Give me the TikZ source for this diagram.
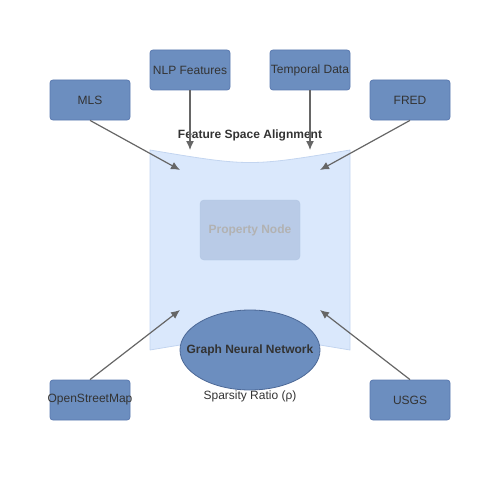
\documentclass[tikz,border=0pt]{standalone}
\usepackage{fontspec}
\setmainfont{Liberation Sans}
\usetikzlibrary{arrows.meta,shapes.geometric}

\definecolor{boxblue}{HTML}{6C8EBF}
\definecolor{boxline}{HTML}{5A7AB0}
\definecolor{paneblue}{HTML}{DAE8FC}
\definecolor{paneline}{HTML}{C3D5F0}
\definecolor{propblue}{HTML}{B9CBE7}
\definecolor{txt}{HTML}{333333}
\definecolor{arr}{HTML}{666666}

\tikzset{
	srcbox/.style={draw=boxline,fill=boxblue,rounded corners=3pt,line width=0.8pt,
		minimum width=80pt,minimum height=40pt,inner sep=0pt,text=txt,font=\fontsize{12}{14}\selectfont},
	feed/.style={draw=arr,line width=1.2pt,-{Latex[length=9pt,width=8pt]}}
}

\begin{document}
\begin{tikzpicture}[x=1pt,y=-1pt]

\useasboundingbox (0,0) rectangle (500,500);

\fill[paneblue] (150,150) .. controls (250,166.7) .. (350,150)
	-- (350,350) .. controls (250,333.3) .. (150,350) -- cycle;
\draw[paneline,line width=0.8pt] (150,350) -- (150,150) .. controls (250,166.7) .. (350,150) -- (350,350)
	.. controls (250,333.3) .. (150,350);

\node[draw=propblue!90!boxblue,fill=propblue,rounded corners=4pt,minimum width=100pt,minimum height=60pt,
	text=black!30,font=\fontsize{12}{14}\selectfont\bfseries] (prop) at (250,230) {Property Node};

\node[ellipse,draw=boxline!85!black,fill=boxblue,line width=0.8pt,minimum width=140pt,minimum height=80pt,
	inner sep=0pt] (gnn) at (250,350) {};
\node[text=txt,font=\fontsize{12}{14}\selectfont\bfseries] (gnntext) at (gnn.center) {Graph Neural Network};

\node[text=txt,font=\fontsize{12}{14}\selectfont] (rho) at (250,396) {Sparsity Ratio (ρ)};
\node[text=txt,font=\fontsize{12}{14}\selectfont\bfseries] (align) at (250,135) {Feature Space Alignment};

\node[srcbox] (mls) at (90,100) {MLS};
\node[srcbox] (nlp) at (190,70) {NLP Features};
\node[srcbox] (temp) at (310,70) {Temporal Data};
\node[srcbox] (fred) at (410,100) {FRED};
\node[srcbox] (osm) at (90,400) {\makebox[0pt]{OpenStreetMap}};
\node[srcbox] (usgs) at (410,400) {USGS};

\coordinate (mlsin) at (180,170);
\coordinate (nlpin) at (190,150);
\coordinate (tempin) at (310,150);
\coordinate (fredin) at (320,170);
\coordinate (osmin) at (180,310);
\coordinate (usgsin) at (320,310);

\draw[feed] (mls.south) -- (mlsin);
\draw[feed] (nlp.south) -- (nlpin);
\draw[feed] (temp.south) -- (tempin);
\draw[feed] (fred.south) -- (fredin);
\draw[feed] (osm.north) -- (osmin);
\draw[feed] (usgs.north) -- (usgsin);

\end{tikzpicture}
\end{document}
